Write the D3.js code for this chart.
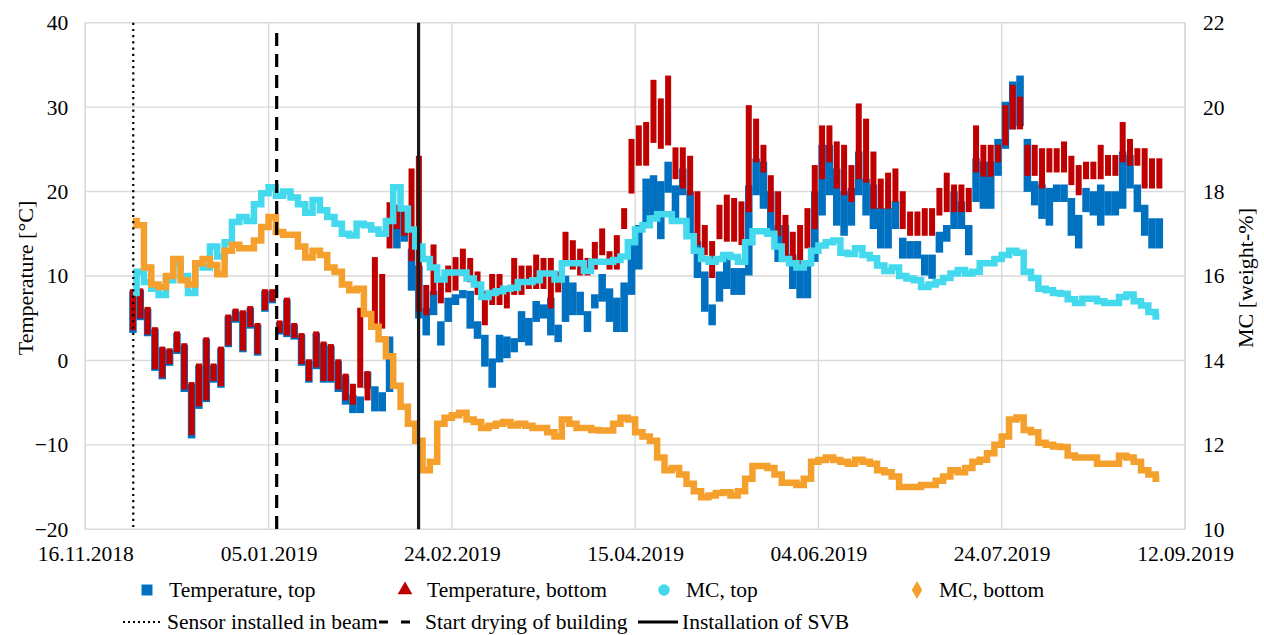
<!DOCTYPE html>
<html><head><meta charset="utf-8">
<script src="https://cdn.jsdelivr.net/npm/d3@7"></script>
<style>
body{margin:0;background:#fff}
svg{display:block}
svg text{font-family:"Liberation Serif","Times New Roman",serif !important}
</style></head>
<body><svg id="c" width="1264" height="635"></svg>
<script>
// ---- data (sampled every 2 days starting 29.11.2018) ----
const firstSample = "29.11.2018";
const sampleStepDays = 2;
const tTopLo = [3.5,5,3.1,-1,-2,-0.4,1,-3.5,-9,-5.5,
-4.7,-2.4,-3,1.8,4.7,1.2,4,0.8,6,7,
3.3,3,2.7,-0.4,-2.4,-0.8,-2.4,-2.4,-3.5,-5,
-6,-6,-3.1,-5.8,-5.8,-3.5,13.5,14.3,8.5,5.2,
3.2,5.6,2,4.8,6.8,7.6,4,2.8,-0.5,-3,
0,0.5,1.2,2.4,2,4.8,5.2,3.2,2.4,4.8,
5.6,5.6,3.6,6.4,7.2,4.8,3.6,3.6,8,11,
16.6,17.4,14.6,20.1,17,19.8,15,10,6,4.4,
7.2,8.7,8,8,10.3,19.8,18.2,15,11.9,11.9,
8.7,7.6,7.6,11.9,17.4,19.8,16.2,15,16.2,19.8,
17.4,15.8,13.5,13.5,15.8,12.3,12.3,12.3,10.3,9.9,
13,14.3,15.8,15.8,12.7,19,18.2,18.2,22.1,25.3,
27.6,28,20.2,18.6,17,16.2,19,19,15,13.5,
17.8,17.4,16.2,17.4,17.4,18.2,20.6,17.8,15,13.5,
13.5];
const tTopHi = [8,8.1,5.9,3.5,1.2,1,3,1.6,-3,-0.8,
2.3,-0.8,1.2,5,5.7,5.5,6,4,8,8,
4.3,7,4,2.8,-0.3,3,1.8,1.5,-0.3,-2,
-4.3,-4.5,-1.6,-3.3,-4,2.6,17.5,17.4,13,11,
6,8,4.4,7.2,7.6,8.1,8,4.4,2.8,0,
2.8,2.6,2.4,5.6,4.8,6.8,6.4,7.2,4,9.8,
9,7.9,5.6,7.6,10,8.3,7.2,9,13.5,15.8,
21.3,21.7,21,23.3,20.5,22.5,19.8,13.9,10.3,6.4,
10.3,11.9,10.7,10.7,20.5,23.7,23.3,19.8,15.8,15.8,
12.3,11,11,19.8,25.3,25.3,22.5,19.8,20.2,24.5,
21.3,20.6,17.8,17.8,18.6,14.3,13.9,13.9,12.3,12.3,
15,15.8,19.8,18.6,15.8,23.7,23.3,23.3,26,30.4,
32.8,33.5,26,21,20.6,20.2,20.6,20.6,19,17,
20.2,19.8,20.6,19.8,19.8,24.5,24.1,20.6,18.2,16.6,
16.6];
const tBotLo = [3.8,5.2,3.3,-0.8,-1.8,-0.2,1.2,-3.2,-8.6,-5.2,
-4.5,-2.2,-2.8,2,4.9,1.4,4.2,1,6.2,7.2,
3.5,3.2,2.9,-0.2,-2.2,-0.6,-2.2,-2.2,-3.2,-4.5,
-5,-3,-4.5,4.5,4,13.5,15.8,15,12,6,
5.6,8,7,8.3,8.5,10.3,9.5,8,4.4,6.8,
6.8,6.4,8,8,8.7,8.7,8.7,6.4,8.3,11.9,
11,10.3,10.3,11,12.7,11,11,15.8,20,23.3,
23.3,26,25.3,25.7,21.7,20.6,19.8,13.9,12.7,10,
14.6,14.3,14.3,13.9,17.8,23.7,22.5,17.8,15,12,
11.9,11,13.5,15.8,21.7,23.7,20.6,19.8,19,21.7,
21.3,18.2,18.2,18.2,19,15.8,15,15,15,15,
17.4,17.8,17.8,17.8,17.8,22.5,22,22,23.7,25.7,
27.6,27.6,22.1,22.1,20.6,22.5,22.5,22.5,21,19.8,
21.7,21.7,21.7,22.1,22.1,23.7,23.3,23.3,20.6,20.6,
20.6];
const tBotHi = [8.2,8.3,6.1,3.7,1.4,1.2,3.2,1.8,-2.8,-0.6,
2.5,-0.6,1.4,5.2,5.9,5.7,6.2,4.2,8.2,8.2,
4.5,7.2,4.2,3,-0.1,3.2,2,1.7,-0.1,-1.8,
-3,6,-1.5,12,10,18.5,18.2,18,22.5,24,
8.7,13.5,9.4,11,12,13,11.9,10.3,8,10,
10,8.4,11.9,11,11,12.3,11.9,11.9,10.3,15,
14,13,11.9,13.8,15.4,12.7,14.6,17.8,26,27.6,
28,33,30.8,33.5,25,25,24,19.8,15.8,13.9,
18.2,19.4,19,18.6,30,28.4,25.3,21.7,19.8,17,
15,15.8,17.8,22.9,27.6,27.6,25.7,25.3,22.9,30.2,
28.4,24.5,21.3,22,22.5,19.8,17.4,17.4,17.8,17.8,
20.2,22,20.6,20.6,20.2,27.6,25.3,25.3,25.3,30,
32.4,31,25.3,25.3,24.9,24.9,24.9,25.7,24,22.9,
23.3,23.3,25.3,24.1,24.1,28,26,24.9,24.9,23.7,
23.7];
const mcTop = [15.6,16.1,15.86,15.7,15.55,15.9,16.3,16,15.6,16.3,
16.2,16.7,16.46,16.8,17.28,17.4,17.3,17.7,17.96,18.1,
17.9,18,17.86,17.7,17.5,17.8,17.56,17.4,17.24,17,
16.96,17.24,17.2,17.1,17,17.3,18.1,17.6,17.1,16.7,
16.4,16.2,15.92,16.08,16.08,16.08,15.94,15.8,15.5,15.6,
15.64,15.7,15.72,15.86,15.86,15.9,16.06,16.06,15.92,16.3,
16.3,16.3,16.12,16.34,16.34,16.34,16.38,16.46,16.8,17.1,
17.2,17.36,17.46,17.46,17.3,17.3,16.94,16.6,16.4,16.34,
16.4,16.5,16.45,16.34,16.8,17.06,17.06,17,16.7,16.4,
16.3,16.2,16.3,16.6,16.72,16.8,16.84,16.55,16.52,16.66,
16.5,16.42,16.25,16.12,16.2,16,15.94,15.9,15.74,15.8,
15.86,15.95,16.06,16.14,16.06,16.1,16.3,16.3,16.4,16.5,
16.6,16.55,16.1,15.95,15.7,15.66,15.6,15.58,15.45,15.36,
15.46,15.46,15.4,15.36,15.36,15.5,15.56,15.4,15.3,15.15,
15.04];
const mcBot = [17.3,17.2,16.2,15.8,15.74,16,16.4,15.9,15.8,16.3,
16.4,16.26,16.04,16.6,16.74,16.66,16.66,16.84,17.16,17.4,
17.04,16.98,16.98,16.7,16.44,16.6,16.5,16.2,16.1,15.8,
15.66,15.7,15.1,14.8,14.5,14.1,13.4,12.9,12.5,12.1,
11.4,11.6,12.5,12.64,12.7,12.76,12.6,12.54,12.4,12.45,
12.5,12.54,12.46,12.5,12.45,12.4,12.4,12.3,12.2,12.6,
12.5,12.4,12.4,12.35,12.34,12.34,12.5,12.64,12.6,12.3,
12.2,12.1,11.7,11.4,11.45,11.3,11.08,10.9,10.76,10.8,
10.86,10.88,10.8,10.9,11.2,11.5,11.5,11.45,11.3,11.1,
11.1,11.05,11.2,11.6,11.64,11.7,11.64,11.6,11.55,11.65,
11.6,11.55,11.4,11.35,11.25,11,11,11,11.05,11.05,
11.15,11.25,11.4,11.35,11.45,11.6,11.65,11.8,12,12.2,
12.6,12.65,12.35,12.3,12.05,12,11.96,11.95,11.75,11.7,
11.7,11.7,11.55,11.55,11.55,11.74,11.7,11.6,11.4,11.3,
11.2];
const xTickLabels = ["16.11.2018","05.01.2019","24.02.2019","15.04.2019","04.06.2019","24.07.2019","12.09.2019"];
const yLeftTicks = [-20,-10,0,10,20,30,40];
const yRightTicks = [10,12,14,16,18,20,22];
const eventDates = ["2018-11-29T02:00","2019-01-07T05:00","2019-02-14T22:00"];
const eventNames = ["Sensor installed in beam","Start drying of building","Installation of SVB"];
const seriesNames = ["Temperature, top","Temperature, bottom","MC, top","MC, bottom"];

// ---- layout ----
const L = 85.3, R = 1185, T = 22.7, B = 529.3;
const colBlue = "#0070C0", colRed = "#C00000", colCyan = "#45D9EE", colOrange = "#F5A02C";
const parseTick = d3.utcParse("%d.%m.%Y");
const svg = d3.select("#c");
const FF = '"Liberation Serif","Times New Roman",serif';

const x = d3.scaleUtc().domain([parseTick(xTickLabels[0]), parseTick(xTickLabels[xTickLabels.length-1])]).range([L, R]);
const yT = d3.scaleLinear().domain([-20, 40]).range([B, T]);
const yM = d3.scaleLinear().domain([10, 22]).range([B, T]);

const t0 = parseTick(firstSample);
const dates = tTopLo.map((_, i) => d3.utcDay.offset(t0, i * sampleStepDays));
const stepPx = x(dates[1]) - x(dates[0]);

// grid
const grid = svg.append("g").attr("stroke", "#d9d9d9").attr("stroke-width", 1.4);
yLeftTicks.forEach(v => grid.append("line").attr("x1", L).attr("x2", R).attr("y1", yT(v)).attr("y2", yT(v)));
xTickLabels.forEach(s => grid.append("line").attr("x1", x(parseTick(s))).attr("x2", x(parseTick(s))).attr("y1", T).attr("y2", B));
grid.append("line").attr("x1", L).attr("x2", L).attr("y1", T).attr("y2", B);
grid.append("line").attr("x1", R).attr("x2", R).attr("y1", T).attr("y2", B);

// axes
const fs = 21.5;
const axB = svg.append("g").attr("transform", `translate(0,${B})`)
  .call(d3.axisBottom(x).tickValues(xTickLabels.map(parseTick)).tickFormat(d3.utcFormat("%d.%m.%Y")).tickSize(0).tickPadding(16));
const axL = svg.append("g").attr("transform", `translate(${L},0)`)
  .call(d3.axisLeft(yT).tickValues(yLeftTicks).tickSize(0).tickPadding(17));
const axR = svg.append("g").attr("transform", `translate(${R},0)`)
  .call(d3.axisRight(yM).tickValues(yRightTicks).tickSize(0).tickPadding(18));
[axB, axL, axR].forEach(a => {
  a.attr("font-family", null).attr("font-size", null);
  a.select(".domain").remove();
  a.selectAll("text").style("font-family", FF).style("font-size", fs + "px").attr("fill", "#000");
});

svg.append("text").attr("transform", `translate(33,278) rotate(-90)`).attr("text-anchor", "middle")
  .style("font-family", FF).style("font-size", "22px").text("Temperature [°C]");
svg.append("text").attr("transform", `translate(1253,278) rotate(-90)`).attr("text-anchor", "middle")
  .style("font-family", FF).style("font-size", "22px").text("MC [weight-%]");

// temperature ranges (min..max of readings in each sample interval)
function tempBars(lo, hi, color, w) {
  svg.append("g").attr("fill", color).selectAll("rect").data(dates).join("rect")
    .attr("x", d => x(d) - w / 2).attr("width", w)
    .attr("y", (d, i) => yT(hi[i]) - 2)
    .attr("height", (d, i) => Math.max(3, yT(lo[i]) - yT(hi[i]) + 4));
}
tempBars(tTopLo, tTopHi, colBlue, stepPx + 0.2);
tempBars(tBotLo, tBotHi, colRed, 6);

// MC series
function mcLine(vals, color) {
  svg.append("path").datum(vals).attr("fill", "none").attr("stroke", color).attr("stroke-width", 6.5)
    .attr("d", d3.line().x((v, i) => x(dates[i])).y(v => yM(v)).curve(d3.curveStep));
}
mcLine(mcTop, colCyan);
mcLine(mcBot, colOrange);

// event lines
const evStyle = [{w: 2.2, dash: "2.2,4"}, {w: 3.2, dash: "13,8"}, {w: 3.2, dash: null}];
eventDates.forEach((s, i) => {
  const xx = x(new Date(s + "Z"));
  const ln = svg.append("line").attr("x1", xx).attr("x2", xx).attr("y1", i === 1 ? 33 : T).attr("y2", B)
    .attr("stroke", i === 2 ? "#1a1a1a" : "#000").attr("stroke-width", evStyle[i].w);
  if (evStyle[i].dash) ln.attr("stroke-dasharray", evStyle[i].dash);
});

// legend
const lg = svg.append("g").style("font-family", FF).style("font-size", fs + "px");
const row1 = 597, row2 = 629;
const symX = [147, 405, 664, 917];
const symCol = [colBlue, colRed, colCyan, colOrange];
const symType = [d3.symbolSquare, d3.symbolTriangle, d3.symbolCircle, d3.symbolDiamond];
const symSize = [120, 95, 105, 95];
seriesNames.forEach((n, i) => {
  lg.append("path").attr("d", d3.symbol(symType[i], symSize[i])())
    .attr("transform", `translate(${symX[i]},${row1 - 7})`).attr("fill", symCol[i]);
  lg.append("text").attr("x", symX[i] + 22).attr("y", row1).text(n);
});
const lineX = [[123, 163], [379, 417], [638, 678]];
eventNames.forEach((n, i) => {
  const l = lg.append("line").attr("x1", lineX[i][0]).attr("x2", lineX[i][1]).attr("y1", row2 - 7).attr("y2", row2 - 7)
    .attr("stroke", "#000").attr("stroke-width", i === 0 ? 2 : 3);
  if (i === 0) l.attr("stroke-dasharray", "2,3");
  if (i === 1) l.attr("stroke-dasharray", "9,13");
  lg.append("text").attr("x", lineX[i][1] + (i === 1 ? 8 : 4)).attr("y", row2).text(n);
});
</script></body></html>
